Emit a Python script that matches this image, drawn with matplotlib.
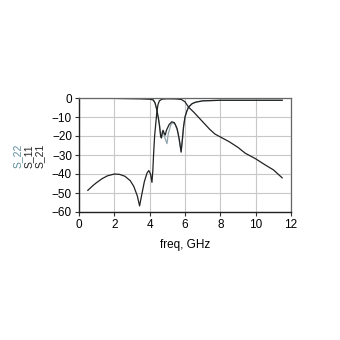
import matplotlib
matplotlib.use('Agg')
import matplotlib.pyplot as plt

# S21 (transmission)
s21_f = [0.5, 0.8, 1.0, 1.3, 1.6, 2.0, 2.3, 2.6, 2.9, 3.1, 3.3, 3.43, 3.55, 3.7,
         3.85, 3.95, 4.05, 4.13, 4.18, 4.22, 4.28, 4.34, 4.4, 4.47, 4.55, 4.7,
         5.0, 5.5, 5.8, 6.0, 6.2, 6.5, 6.8, 7.1, 7.4, 7.7, 8.0, 8.5, 9.0, 9.4,
         10.0, 10.5, 11.0, 11.5]
s21_db = [-48.6, -46, -44.5, -42.5, -41, -40, -40.2, -41.2, -43.5, -46.5, -51.5,
          -56.8, -51, -44, -39.5, -38.2, -40, -44.4, -38, -30, -20, -14, -8,
          -3.5, -1.5, -0.6, -0.4, -0.5, -0.8, -2.0, -4.8, -7.5, -10.5, -13.5,
          -16.5, -19, -20.5, -23, -26, -29, -32, -35, -37.8, -42]

# S11
s11_f = [0.5, 2.0, 3.5, 4.0, 4.2, 4.3, 4.4, 4.5, 4.56, 4.62, 4.66, 4.72, 4.76,
         4.82, 4.88, 4.95, 5.1, 5.25, 5.4, 5.55, 5.68, 5.78, 5.85, 5.92, 6.0,
         6.1, 6.2, 6.4, 6.6, 7.0, 8.0, 11.5]
s11_db = [-0.2, -0.2, -0.4, -0.6, -1.0, -2.5, -6, -11, -15, -20, -21, -18, -17,
          -18.5, -19.5, -17, -14, -12.5, -13, -16, -22, -28.5, -22, -15, -10,
          -7, -4.8, -3, -2.2, -1.5, -1.2, -1.2]

# S22
s22_f = [0.5, 2.0, 3.5, 4.0, 4.2, 4.3, 4.4, 4.5, 4.56, 4.62, 4.68, 4.74, 4.8,
         4.9, 4.98, 5.05, 5.2, 5.33, 5.45, 5.6, 5.72, 5.78, 5.85, 5.92, 6.0,
         6.1, 6.2, 6.4, 6.6, 7.0, 8.0, 11.5]
s22_db = [-0.2, -0.2, -0.4, -0.6, -1.0, -2.5, -6, -11, -14, -19, -21, -18, -19,
          -22, -24, -19, -14, -13, -14, -18, -25, -28, -22, -15, -10,
          -7, -4.8, -3, -2.2, -1.5, -1.2, -1.2]

x_ticks = [0, 2, 4, 6, 8, 10, 12]
y_ticks = [0, -10, -20, -30, -40, -50, -60]

plt.rcParams['font.family'] = ['Liberation Sans', 'DejaVu Sans']
fig = plt.figure(figsize=(3.4, 3.4), dpi=100)
ax = fig.add_axes([79 / 340, 128 / 340, 212 / 340, 114 / 340])

teal = '#5f8f9c'
ax.plot(s22_f, s22_db, color='#8fa5ad', lw=0.9)
ax.plot(s11_f, s11_db, color='#222222', lw=0.9)
ax.plot(s21_f, s21_db, color='#222222', lw=0.9)

ax.set_xlim(0, 12)
ax.set_ylim(-60, 0)
ax.set_xticks(x_ticks)
ax.set_yticks(y_ticks)
ax.grid(True, color='#c8c8c8', lw=0.8)
ax.tick_params(labelsize=8.5, length=3, width=0.8, color='#333333', pad=2)
for side in ['top', 'right']:
    ax.spines[side].set_color('#666666')
    ax.spines[side].set_linewidth(0.9)
for side in ['left', 'bottom']:
    ax.spines[side].set_color('#222222')
    ax.spines[side].set_linewidth(1.0)
ax.set_xlabel('freq, GHz', fontsize=8.5, labelpad=6)

# rotated legend labels on the left
for x, name, c in [(18, 'S_22', teal), (29, 'S_11', '#222222'), (40, 'S_21', '#222222')]:
    fig.text(x / 340, 1 - 156 / 340, name, rotation=90, ha='center', va='center',
             fontsize=7.5, color=c)

fig.savefig('out.png', dpi=100)
